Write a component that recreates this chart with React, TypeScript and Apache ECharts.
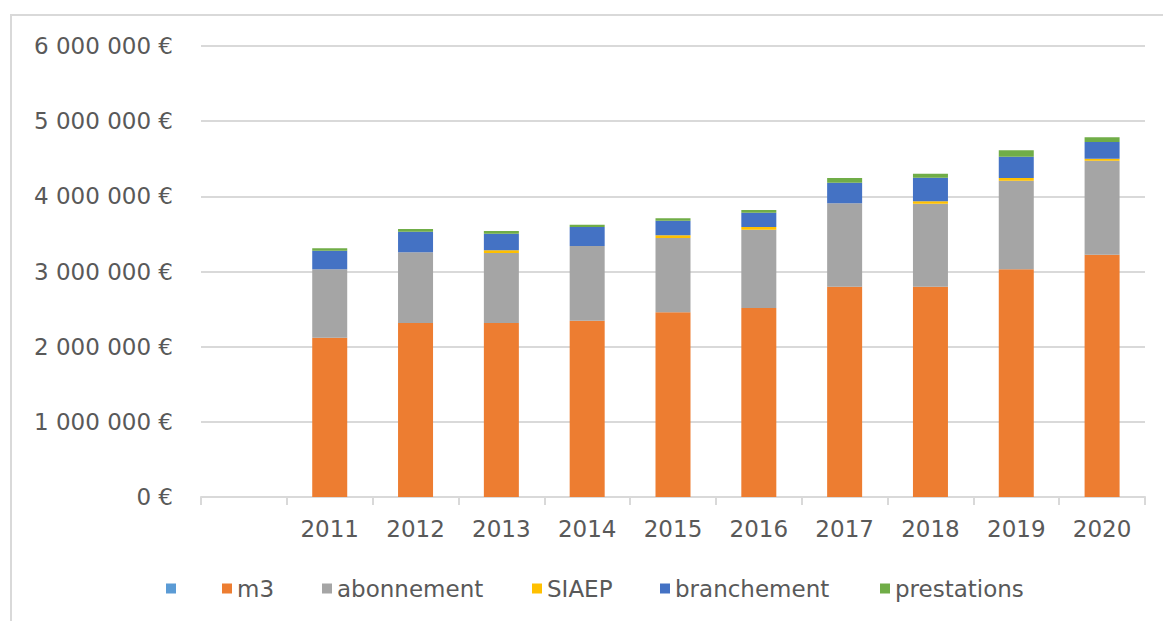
import React, { useEffect, useRef } from "react";
import * as echarts from "echarts";

const categories = ["", "2011", "2012", "2013", "2014", "2015", "2016", "2017", "2018", "2019", "2020"];
const blankSeries: (number | null)[] = [null, null, null, null, null, null, null, null, null, null, null];
const m3 = [null, 2119000, 2315000, 2315000, 2345000, 2457000, 2514000, 2798000, 2798000, 3029000, 3223000];
const abonnement = [null, 910000, 940000, 931000, 994000, 989000, 1042000, 1109000, 1104000, 1179000, 1251000];
const siaep = [null, 0, 0, 36000, 0, 35000, 36000, 0, 32000, 36000, 26000];
const branchement = [null, 248000, 275000, 221000, 253000, 195000, 190000, 274000, 314000, 283000, 223000];
const prestations = [null, 33000, 35000, 36000, 31000, 32000, 36000, 63000, 53000, 85000, 62000];
const yTicks = [0, 1000000, 2000000, 3000000, 4000000, 5000000, 6000000];
const legendNames = [" ", "m3", "abonnement", "SIAEP", "branchement", "prestations"];
const legendLefts = [161, 217, 317, 527, 655, 875];

const FONT = "DejaVu Sans";
const TEXT = "#595959";
const GRID = "#d9d9d9";

function fmt(v: number): string {
  return String(Math.round(v)).replace(/\B(?=(\d{3})+(?!\d))/g, " ") + " €";
}

export default function App() {
  const ref = useRef<HTMLDivElement>(null);
  useEffect(() => {
    if (!ref.current) return;
    const chart = echarts.init(ref.current, null, { renderer: "svg" });
    const mk = (name: string, data: (number | null)[], color: string) => ({
      name,
      type: "bar",
      stack: "total",
      data,
      barWidth: 35,
      itemStyle: { color },
      emphasis: { disabled: true },
    });
    chart.setOption({
      animation: false,
      textStyle: { fontFamily: FONT },
      graphic: [
        {
          type: "rect",
          shape: { x: 11, y: 15, width: 1300, height: 800 },
          style: { fill: "none", stroke: GRID, lineWidth: 2 },
          silent: true,
          z: -1,
        },
      ],
      grid: { left: 201, right: 18, top: 46, bottom: 124, containLabel: false },
      legend: legendNames.map((n, i) => ({
        left: legendLefts[i],
        top: 572,
        itemWidth: 10,
        itemHeight: 10,
        itemGap: 8,
        icon: "rect",
        textStyle: { fontFamily: FONT, fontSize: 23, color: TEXT },
        data: [n],
      })),
      xAxis: {
        type: "category",
        data: categories,
        boundaryGap: true,
        axisLine: { show: true, lineStyle: { color: GRID, width: 2 } },
        axisTick: { show: true, length: 8, lineStyle: { color: GRID, width: 2 } },
        axisLabel: { fontFamily: FONT, fontSize: 23, color: TEXT, margin: 20 },
      },
      yAxis: {
        type: "value",
        min: 0,
        max: yTicks[yTicks.length - 1],
        interval: 1000000,
        axisLine: { show: false },
        axisTick: { show: false },
        splitLine: { lineStyle: { color: GRID, width: 2 } },
        axisLabel: {
          fontFamily: FONT,
          fontSize: 23,
          color: TEXT,
          margin: 28,
          formatter: (v: number) => fmt(v),
        },
      },
      series: [
        mk(" ", blankSeries, "#5B9BD5"),
        mk("m3", m3, "#ED7D31"),
        mk("abonnement", abonnement, "#A5A5A5"),
        mk("SIAEP", siaep, "#FFC000"),
        mk("branchement", branchement, "#4472C4"),
        mk("prestations", prestations, "#70AD47"),
      ],
    });
    return () => chart.dispose();
  }, []);
  return (
    <div
      ref={ref}
      style={{ position: "fixed", left: 0, top: 0, width: 1163, height: 621, background: "#fff" }}
    />
  );
}
